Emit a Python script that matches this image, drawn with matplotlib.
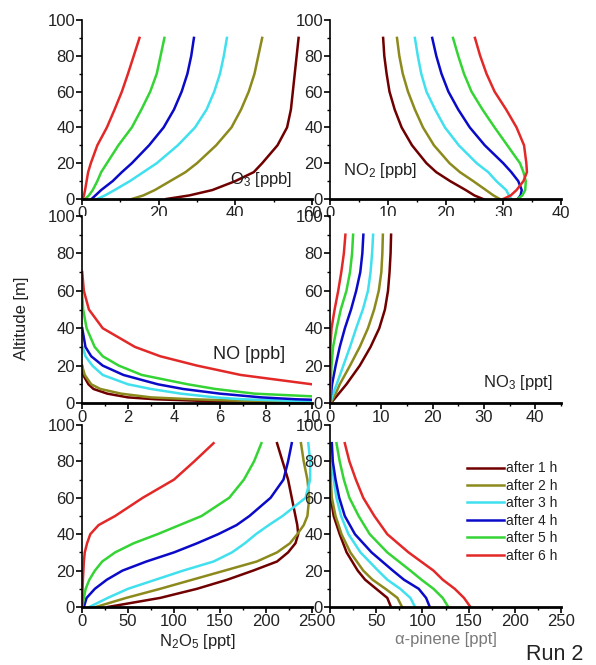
import numpy as np
import matplotlib.pyplot as plt
from matplotlib.ticker import MultipleLocator

plt.rcParams['font.family'] = ['Liberation Sans', 'DejaVu Sans']
plt.rcParams['mathtext.default'] = 'regular'

hours = ['after 1 h', 'after 2 h', 'after 3 h', 'after 4 h', 'after 5 h', 'after 6 h']
colors = ['#700000', '#8c8a1c', '#40e0ee', '#0a0ac8', '#35d435', '#e32828']
nan = np.nan

# O3 [ppb]
alt_o3 = [0, 2, 5, 10, 15, 20, 30, 40, 50, 60, 70, 80, 90]
o3 = [
    [22, 28, 34, 40, 44.8, 47, 51, 53.5, 54.5, 55, 55.5, 56, 56.5],
    [13, 16, 19, 23, 27, 30, 35, 39, 41.5, 43.5, 45, 46, 47],
    [4, 6, 8.5, 12.5, 16, 19.5, 25, 29.5, 32.5, 34.5, 36, 37, 37.8],
    [2.5, 3.5, 5, 8, 10.4, 13, 17.5, 21.3, 24, 26, 27.5, 28.5, 29.2],
    [0.8, 1.8, 2.8, 4, 5, 6.5, 9.5, 13, 15.5, 17.8, 19.5, 20.5, 21.5],
    [0.2, 0.5, 0.8, 1.2, 1.6, 2.3, 4, 6.5, 8.5, 10.4, 12, 13.5, 15],
]

# NO2 [ppb]
alt_no2 = [0, 2, 5, 10, 15, 20, 30, 40, 50, 60, 70, 80, 90]
no2 = [
    [26.5, 25, 23.5, 20.8, 18.4, 16.7, 14.2, 12.4, 11.2, 10.3, 9.8, 9.4, 9.2],
    [29.4, 28.3, 27, 24.8, 22.5, 20.7, 18, 16.1, 14.7, 13.5, 12.6, 12, 11.6],
    [31.4, 31, 30.5, 28.8, 27.4, 25.4, 22.3, 19.9, 18.2, 16.7, 15.8, 15.2, 14.7],
    [32.5, 33, 33.2, 32.6, 31.4, 30, 26.8, 24.2, 22.2, 20.5, 19.3, 18.4, 17.7],
    [32.5, 33.3, 33.8, 33.9, 33.5, 32.9, 30.7, 28.5, 26.4, 24.5, 23.2, 22.2, 21.3],
    [30, 31.3, 32.3, 33.5, 34.1, 34, 33.6, 32.3, 30.5, 28.5, 27.1, 26, 25.1],
]

# NO [ppb]
alt_no = [0, 1, 2, 3, 5, 7.5, 10, 15, 20, 25, 30, 40, 50, 60, 70, 80, 90]
no = [
    [14, 5.5, 3.2, 2.0, 1.1, 0.5, 0.28, 0.05, 0, nan, nan, nan, nan, nan, nan, nan, nan],
    [14, 7.5, 4.8, 3.0, 1.7, 0.8, 0.4, 0.12, 0, nan, nan, nan, nan, nan, nan, nan, nan],
    [14, 9.5, 7.0, 5.8, 4.3, 3.0, 2.0, 0.9, 0.45, 0.15, 0.03, nan, nan, nan, nan, nan, nan],
    [15, 12, 9.3, 7.8, 6.0, 4.4, 3.3, 1.8, 0.9, 0.4, 0.15, 0.01, nan, nan, nan, nan, nan],
    [25, 18, 14, 11, 7.5, 5.8, 4.6, 2.6, 1.6, 0.9, 0.55, 0.2, 0.05, 0, nan, nan, nan],
    [30, 26, 23, 21, 18, 13.5, 10, 6.9, 5.0, 3.4, 2.3, 0.9, 0.3, 0.08, 0.01, nan, nan],
]

# NO3 [ppt]
alt_no3 = [0, 5, 10, 20, 30, 40, 50, 60, 70, 80, 90]
no3 = [
    [0.2, 1.7, 3.2, 5.8, 7.9, 9.6, 10.7, 11.3, 11.6, 11.8, 11.9],
    [0.1, 1.1, 1.9, 3.9, 5.8, 7.4, 8.6, 9.5, 10, 10.2, 10.3],
    [0.05, 0.6, 1.3, 2.6, 3.9, 5.1, 6.4, 7.4, 7.9, 8.2, 8.4],
    [0, 0.2, 0.4, 1.1, 1.9, 2.9, 4.1, 5.1, 5.9, 6.3, 6.5],
    [0, 0.05, 0.1, 0.3, 0.6, 1.3, 2.1, 3.2, 3.9, 4.3, 4.5],
    [0, 0, 0, 0.02, 0.08, 0.3, 0.9, 1.6, 2.2, 2.7, 3.0],
]

# N2O5 [ppt]
alt_n2o5 = [0, 5, 10, 15, 20, 25, 30, 35, 40, 45, 50, 60, 70, 80, 90]
n2o5 = [
    [28, 85, 125, 158, 186, 212, 224, 232, 235, 234, 232, 228, 224, 218, 212],
    [15, 48, 85, 120, 155, 190, 212, 226, 234, 241, 245, 247, 245, 241, 238],
    [8, 28, 50, 80, 110, 143, 163, 177, 189, 203, 218, 243, 248, 248, 246],
    [2, 5, 14, 27, 44, 70, 100, 125, 148, 168, 182, 205, 219, 224, 228],
    [0.5, 2, 4, 8, 14, 22, 36, 56, 82, 106, 130, 160, 176, 187, 195],
    [0, 0.3, 0.6, 1, 1.5, 2, 3, 5.5, 9, 18, 36, 66, 100, 122, 143],
]

# alpha-pinene [ppt]
alt_pin = [0, 5, 10, 15, 20, 30, 40, 50, 60, 70, 80, 90]
pinene = [
    [66, 62, 50, 38, 30, 18, 10.5, 4, 0.8, 0.3, 0.2, 0.1],
    [78, 73, 60, 46, 36, 22, 12.5, 6, 2, 0.8, 0.5, 0.3],
    [92, 87, 76, 62, 52, 33, 20, 12, 7, 4, 2.5, 1.5],
    [108, 104, 96, 80, 68, 45, 27, 16, 10, 6, 3, 2],
    [128, 122, 112, 99, 87, 62, 43, 31, 21, 15, 10.5, 7],
    [152, 145, 135, 122, 112, 85, 62, 48, 36, 28, 21, 16],
]

txt = '#222222'

fig = plt.figure(figsize=(5.96, 6.65), dpi=100)

def panel(rect, alt, series, xmax, xmaj, xmin):
    ax = fig.add_axes(rect)
    for vals, c, lab in zip(series, colors, hours):
        ax.plot(vals, alt, color=c, lw=1.8, label=lab)
    ax.set_xlim(0, xmax)
    ax.set_ylim(0, 100)
    ax.xaxis.set_major_locator(MultipleLocator(xmaj))
    ax.xaxis.set_minor_locator(MultipleLocator(xmin))
    ax.yaxis.set_major_locator(MultipleLocator(20))
    ax.yaxis.set_minor_locator(MultipleLocator(10))
    ax.spines['top'].set_visible(False)
    ax.spines['right'].set_visible(False)
    ax.spines['left'].set_linewidth(1.2)
    ax.spines['bottom'].set_linewidth(2)
    ax.tick_params(which='major', direction='out', length=4, width=1.2,
                   labelsize=12, pad=1, colors='black', labelcolor=txt)
    ax.tick_params(which='minor', direction='out', length=2.5, width=1)
    return ax

L, WL = 82 / 596, 230 / 596
R, WR = 330 / 596, 231 / 596
rows = [(20, 199), (216, 403), (425, 607)]
def rect(col, row):
    top, bot = rows[row]
    b, h = 1 - bot / 665, (bot - top) / 665
    return [L, b, WL, h] if col == 0 else [R, b, WR, h]

ax1 = panel(rect(0, 0), alt_o3, o3, 60, 20, 10)
ax2 = panel(rect(1, 0), alt_no2, no2, 40, 10, 5)
ax3 = panel(rect(0, 1), alt_no, no, 10, 2, 1)
ax4 = panel(rect(1, 1), alt_no3, no3, 45, 10, 5)
ax5 = panel(rect(0, 2), alt_n2o5, n2o5, 250, 50, 25)
ax6 = panel(rect(1, 2), alt_pin, pinene, 250, 50, 25)

ax1.text(38.5, 11, 'O$_3$ [ppb]', fontsize=12, color=txt, va='center')
ax2.text(2.3, 16, 'NO$_2$ [ppb]', fontsize=12, color=txt, va='center')
ax3.text(5.7, 26, 'NO [ppb]', fontsize=13, color=txt, va='center')
ax4.text(29.8, 11, 'NO$_3$ [ppt]', fontsize=12, color=txt, va='center')

ax5.set_xlabel('N$_2$O$_5$ [ppt]', fontsize=12, color=txt, labelpad=2)
ax6.set_xlabel('\u03b1-pinene [ppt]', fontsize=12, color='#7a7a7a', labelpad=2)

fig.text(22 / 596, 1 - 318 / 665, 'Altitude [m]', rotation=90, fontsize=12,
         color=txt, ha='center', va='center')
fig.text(526 / 596, 1 - 655 / 665, 'Run 2', fontsize=15.5, color=txt, va='center')

ax6.legend(loc='upper left', bbox_to_anchor=(0.595, 0.80), frameon=False,
           fontsize=10, handlelength=2.6, handletextpad=0.15,
           labelspacing=0.25, borderpad=0, borderaxespad=0,
           labelcolor=txt)

fig.savefig('out.png', dpi=100)
